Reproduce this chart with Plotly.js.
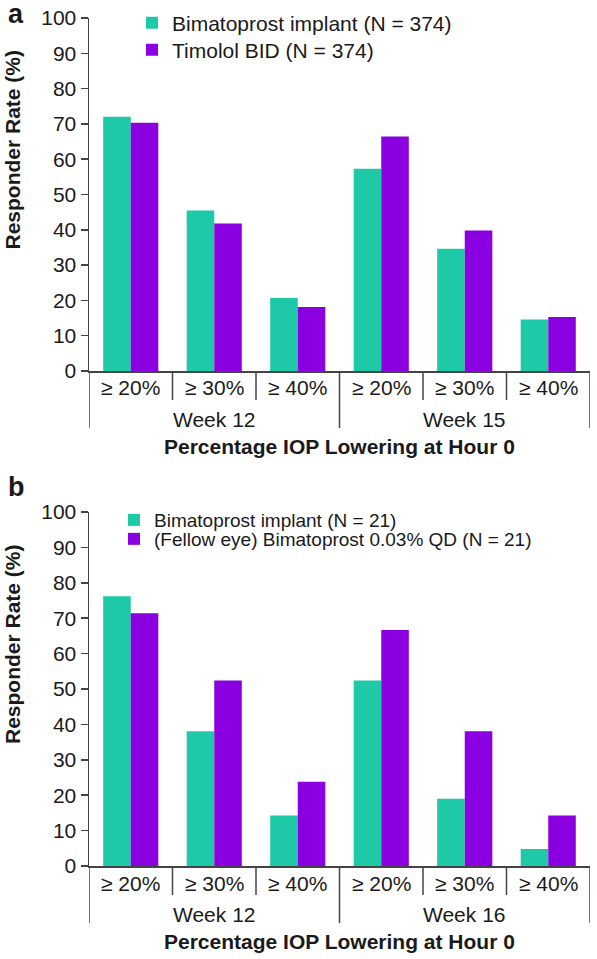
<!DOCTYPE html>
<html>
<head>
<meta charset="utf-8">
<script src="https://cdn.plot.ly/plotly-3.0.1.min.js"></script>
<style>html,body{margin:0;padding:0;background:#fff;}#chart{width:597px;height:959px;}</style>
</head>
<body>
<div id="chart"></div>
<script>
// ---- data ----
const thresholds = ['≥ 20%', '≥ 30%', '≥ 40%'];
const weeksA = ['Week 12', 'Week 15'];
const weeksB = ['Week 12', 'Week 16'];
const seriesA1Name = 'Bimatoprost implant (N = 374)';
const seriesA2Name = 'Timolol BID (N = 374)';
const seriesB1Name = 'Bimatoprost implant (N = 21)';
const seriesB2Name = '(Fellow eye) Bimatoprost 0.03% QD (N = 21)';
const implantA = [72.0, 45.5, 20.7, 57.3, 34.6, 14.6];
const timololA = [70.3, 41.8, 18.1, 66.4, 39.8, 15.3];
const implantB = [76.2, 38.1, 14.3, 52.4, 19.0, 4.8];
const fellowB  = [71.4, 52.4, 23.8, 66.7, 38.1, 14.3];
const yTicks = [0, 10, 20, 30, 40, 50, 60, 70, 80, 90, 100];
const xTitle = 'Percentage IOP Lowering at Hour 0';
const yTitle = 'Responder Rate (%)';

// ---- layout helpers ----
const H = 959, W = 597, ML = 89, MR = 7;
const PW = W - ML - MR;
const py = p => 1 - p / H;
const pxX = p => (p - ML) / PW;
const teal = '#1dc9a7', purple = '#8a00e0';
const ink = '#1a1a1a', axisCol = '#444';
const FONT = 'Liberation Sans, Arial, Helvetica, sans-serif';

// positions of categories derived from the category arrays
function positions(weeks) {
  const pos = [];
  weeks.forEach((w, wi) => thresholds.forEach((t, ti) => pos.push(wi * thresholds.length + ti)));
  return pos;
}
const posA = positions(weeksA), posB = positions(weeksB);

const traces = [
  {type: 'bar', x: posA, y: implantA, name: seriesA1Name, marker: {color: teal}, xaxis: 'x', yaxis: 'y', legend: 'legend'},
  {type: 'bar', x: posA, y: timololA, name: seriesA2Name, marker: {color: purple}, xaxis: 'x', yaxis: 'y', legend: 'legend2'},
  {type: 'bar', x: posB, y: implantB, name: seriesB1Name, marker: {color: teal}, xaxis: 'x2', yaxis: 'y2', legend: 'legend3'},
  {type: 'bar', x: posB, y: fellowB, name: seriesB2Name, marker: {color: purple}, xaxis: 'x2', yaxis: 'y2', legend: 'legend4'}
];

const panels = [
  {xa: 'x', weeks: weeksA, top: 18, bottom: 371, letter: 'a', letterY: 14},
  {xa: 'x2', weeks: weeksB, top: 512, bottom: 866, letter: 'b', letterY: 487}
];

const annotations = [];
const shapes = [];
panels.forEach(p => {
  const n = p.weeks.length * thresholds.length;
  for (let i = 0; i < n; i++) {
    annotations.push({xref: p.xa, yref: 'paper', x: i, y: py(p.bottom + 17), text: thresholds[i % thresholds.length],
      showarrow: false, xanchor: 'center', yanchor: 'middle', font: {family: FONT, size: 21, color: ink}});
  }
  p.weeks.forEach((w, wi) => {
    annotations.push({xref: p.xa, yref: 'paper', x: wi * thresholds.length + (thresholds.length - 1) / 2, y: py(p.bottom + 48), text: w,
      showarrow: false, xanchor: 'center', yanchor: 'middle', font: {family: FONT, size: 21, color: ink}});
  });
  for (let b = 0; b <= n; b++) {
    const isGroup = b % thresholds.length === 0;
    shapes.push({type: 'line', xref: p.xa, yref: 'paper', x0: b - 0.5, x1: b - 0.5,
      y0: py(p.bottom), y1: py(p.bottom + (isGroup ? 57 : 29)), line: {color: axisCol, width: 1.5}});
  }
  annotations.push({xref: 'paper', yref: 'paper', x: 0.5, y: py(p.bottom + 75), text: '<b>' + xTitle + '</b>',
    showarrow: false, xanchor: 'center', yanchor: 'middle', font: {family: FONT, size: 21, color: ink}});
  annotations.push({xref: 'paper', yref: 'paper', x: pxX(12), y: py((p.top + p.bottom) / 2 - 45), text: '<b>' + yTitle + '</b>',
    textangle: -90, showarrow: false, xanchor: 'center', yanchor: 'middle', font: {family: FONT, size: 21, color: ink}});
  annotations.push({xref: 'paper', yref: 'paper', x: pxX(16), y: py(p.letterY), text: '<b>' + p.letter + '</b>',
    showarrow: false, xanchor: 'center', yanchor: 'middle', font: {family: FONT, size: 27, color: ink}});
});

const xaxisBase = {range: [-0.5, 5.5], showline: true, linecolor: axisCol, linewidth: 1.5, ticks: '',
  showticklabels: false, showgrid: false, zeroline: false, fixedrange: true};
const yaxisBase = {range: [0, 100], tickvals: yTicks, ticks: 'outside', ticklen: 7, tickwidth: 1.5, tickcolor: axisCol,
  showline: true, linecolor: axisCol, linewidth: 1.5, showgrid: false, zeroline: false,
  tickfont: {family: FONT, size: 21, color: ink}, fixedrange: true};

const legBase = (x, yc, size) => ({x: pxX(x), xanchor: 'left', y: py(yc), yanchor: 'middle', bgcolor: 'rgba(0,0,0,0)',
  font: {family: FONT, size: size, color: ink}});

const layout = {
  width: W, height: H,
  margin: {l: ML, r: MR, t: 0, b: 0},
  paper_bgcolor: '#fff', plot_bgcolor: '#fff',
  barmode: 'group', bargap: 0.34, bargroupgap: 0,
  font: {family: FONT, color: ink},
  xaxis: Object.assign({}, xaxisBase, {domain: [0, 1], anchor: 'y'}),
  yaxis: Object.assign({}, yaxisBase, {domain: [py(371), py(18)], anchor: 'x'}),
  xaxis2: Object.assign({}, xaxisBase, {domain: [0, 1], anchor: 'y2'}),
  yaxis2: Object.assign({}, yaxisBase, {domain: [py(866), py(512)], anchor: 'x2'}),
  legend: legBase(132, 23, 21),
  legend2: legBase(132, 50, 21),
  legend3: legBase(114, 520, 19),
  legend4: legBase(114, 539, 19),
  annotations: annotations,
  shapes: shapes,
  showlegend: true
};

Plotly.newPlot('chart', traces, layout, {displayModeBar: false, staticPlot: true});
</script>
</body>
</html>
